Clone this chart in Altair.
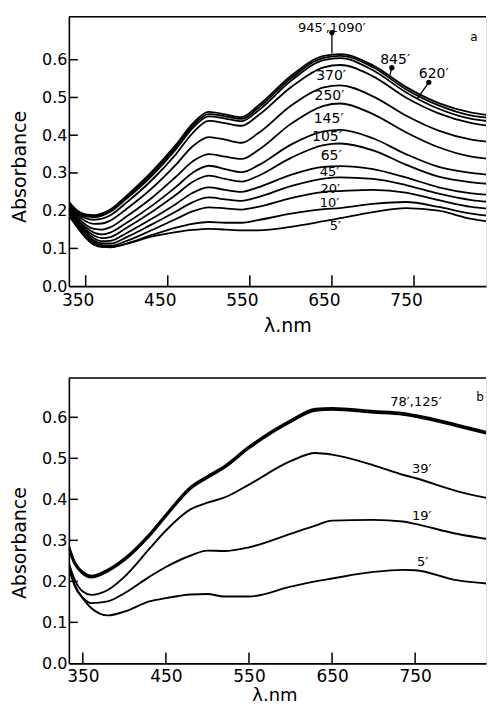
import altair as alt
import pandas as pd

FONT = "DejaVu Sans"

# ---------------- panel a ----------------
WL_A = [330, 340, 350, 360, 370, 380, 400, 430, 460, 480, 500, 520, 540, 560, 600, 640, 660, 700, 740, 780, 820, 848]
A_1090 = [0.222, 0.200, 0.190, 0.188, 0.193, 0.203, 0.240, 0.302, 0.375, 0.430, 0.462, 0.455, 0.448, 0.478, 0.557, 0.610, 0.615, 0.585, 0.528, 0.485, 0.460, 0.452]
A_845 = [0.220, 0.198, 0.188, 0.186, 0.190, 0.200, 0.236, 0.297, 0.369, 0.424, 0.456, 0.450, 0.443, 0.472, 0.551, 0.605, 0.610, 0.580, 0.522, 0.479, 0.452, 0.445]
A_620 = [0.218, 0.196, 0.185, 0.183, 0.187, 0.197, 0.232, 0.291, 0.363, 0.418, 0.450, 0.444, 0.437, 0.465, 0.544, 0.599, 0.604, 0.572, 0.514, 0.470, 0.443, 0.436]
A_370 = [0.215, 0.192, 0.180, 0.176, 0.179, 0.188, 0.222, 0.280, 0.350, 0.405, 0.438, 0.432, 0.425, 0.452, 0.527, 0.580, 0.586, 0.556, 0.500, 0.458, 0.432, 0.423]
A_250 = [0.212, 0.188, 0.172, 0.165, 0.166, 0.174, 0.205, 0.258, 0.322, 0.370, 0.395, 0.388, 0.380, 0.405, 0.478, 0.527, 0.532, 0.503, 0.452, 0.412, 0.388, 0.381]
A_145 = [0.208, 0.182, 0.163, 0.152, 0.150, 0.156, 0.185, 0.233, 0.290, 0.330, 0.350, 0.343, 0.337, 0.360, 0.430, 0.478, 0.484, 0.456, 0.408, 0.368, 0.343, 0.336]
A_105 = [0.205, 0.178, 0.156, 0.142, 0.137, 0.142, 0.168, 0.212, 0.263, 0.300, 0.319, 0.310, 0.302, 0.320, 0.375, 0.410, 0.414, 0.392, 0.350, 0.316, 0.300, 0.294]
A_65 = [0.202, 0.174, 0.150, 0.134, 0.127, 0.130, 0.155, 0.196, 0.242, 0.276, 0.293, 0.284, 0.277, 0.292, 0.340, 0.374, 0.378, 0.360, 0.322, 0.290, 0.275, 0.270]
A_45 = [0.198, 0.170, 0.145, 0.127, 0.119, 0.120, 0.141, 0.178, 0.218, 0.247, 0.262, 0.255, 0.250, 0.262, 0.295, 0.316, 0.318, 0.310, 0.288, 0.262, 0.246, 0.241]
A_30 = [0.195, 0.166, 0.140, 0.121, 0.113, 0.113, 0.130, 0.163, 0.198, 0.222, 0.235, 0.230, 0.226, 0.236, 0.265, 0.285, 0.288, 0.284, 0.268, 0.245, 0.228, 0.222]
A_20 = [0.192, 0.163, 0.136, 0.116, 0.108, 0.107, 0.120, 0.148, 0.178, 0.198, 0.209, 0.206, 0.203, 0.210, 0.233, 0.250, 0.252, 0.255, 0.248, 0.228, 0.210, 0.204]
A_10 = [0.188, 0.158, 0.130, 0.111, 0.104, 0.103, 0.113, 0.135, 0.155, 0.165, 0.170, 0.168, 0.168, 0.175, 0.192, 0.204, 0.207, 0.218, 0.223, 0.210, 0.192, 0.185]
A_5 = [0.185, 0.155, 0.128, 0.110, 0.104, 0.104, 0.112, 0.131, 0.143, 0.149, 0.152, 0.150, 0.148, 0.148, 0.157, 0.172, 0.180, 0.196, 0.207, 0.200, 0.178, 0.169]
A_NAMES = ["1090", "845", "620", "370", "250", "145", "105", "65", "45", "30", "20", "10", "5"]
A_LISTS = [A_1090, A_845, A_620, A_370, A_250, A_145, A_105, A_65, A_45, A_30, A_20, A_10, A_5]

A_LABELS = ["945′,1090′", "845′", "620′", "370′", "250′", "145′", "105′", "65′", "45′", "20′", "10′", "5′", "a"]
A_LABEL_WL = [650, 727, 774, 649, 647, 646, 644, 649, 647, 648, 647, 654, 823]
A_LABEL_V = [0.685, 0.598, 0.563, 0.556, 0.505, 0.442, 0.394, 0.344, 0.302, 0.258, 0.219, 0.159, 0.659]
A_LABEL_SIZE = [13, 14, 14, 14, 14, 14, 14, 14, 13, 13, 13, 13, 12]

# pointer lines (label -> curve)
PTR_ID = ["p1", "p1", "p2", "p2", "p3", "p3"]
PTR_WL = [650, 650, 723, 720, 768, 754]
PTR_V = [0.672, 0.617, 0.579, 0.553, 0.540, 0.497]
HEAD_WL = [650, 723, 768]
HEAD_V = [0.672, 0.579, 0.540]

# ---------------- panel b ----------------
WL_B = [333, 340, 350, 360, 380, 400, 430, 450, 480, 500, 520, 550, 600, 630, 650, 700, 735, 750, 800, 847]
B_125 = [0.285, 0.247, 0.222, 0.213, 0.228, 0.255, 0.314, 0.362, 0.430, 0.456, 0.480, 0.528, 0.592, 0.620, 0.622, 0.615, 0.610, 0.605, 0.582, 0.558]
B_78 = [0.282, 0.244, 0.219, 0.210, 0.225, 0.252, 0.311, 0.359, 0.427, 0.453, 0.477, 0.525, 0.589, 0.617, 0.619, 0.612, 0.607, 0.602, 0.579, 0.555]
B_39 = [0.245, 0.205, 0.175, 0.167, 0.179, 0.211, 0.279, 0.324, 0.376, 0.392, 0.404, 0.436, 0.493, 0.513, 0.509, 0.483, 0.460, 0.452, 0.420, 0.399]
B_19 = [0.240, 0.190, 0.160, 0.147, 0.151, 0.171, 0.211, 0.235, 0.263, 0.275, 0.274, 0.283, 0.316, 0.336, 0.348, 0.350, 0.346, 0.340, 0.316, 0.300]
B_5 = [0.232, 0.192, 0.158, 0.135, 0.117, 0.126, 0.151, 0.159, 0.168, 0.169, 0.163, 0.163, 0.187, 0.200, 0.207, 0.223, 0.228, 0.227, 0.203, 0.193]
B_NAMES = ["125", "78", "39", "19", "5"]
B_LISTS = [B_125, B_78, B_39, B_19, B_5]
B_WIDTHS = [2.6, 2.6, 1.9, 1.9, 1.9]

B_LABELS = ["78′,125′", "39′", "19′", "5′", "b"]
B_LABEL_WL = [751, 758, 758, 759, 828]
B_LABEL_V = [0.637, 0.473, 0.360, 0.247, 0.650]
B_LABEL_SIZE = [13, 13, 13, 13, 12]

X_TICKS = [350, 450, 550, 650, 750]
Y_TICKS = [0.0, 0.1, 0.2, 0.3, 0.4, 0.5, 0.6]
Y_INNER_TICKS = [0.1, 0.2, 0.3, 0.4, 0.5, 0.6]


def long_df(wls, names, lists, widths=None):
    rows = []
    for i, (n, vals) in enumerate(zip(names, lists)):
        for w, v in zip(wls, vals):
            rows.append({"wl": w, "v": v, "series": n,
                         "sw": (widths[i] if widths else 1.8)})
    return pd.DataFrame(rows)


def panel(lines_df, labels_df, xdom, ydom, W, H, label_offset, lab_pad, title_pad,
          xtitle_size, ytitle_y, xtitle_x, ptr_df=None, head_df=None):
    xs = alt.Scale(domain=xdom, nice=False, zero=False)
    ys = alt.Scale(domain=ydom, nice=False, zero=False)
    xax = alt.Axis(values=X_TICKS, format="d", ticks=False, grid=False,
                   labelPadding=lab_pad, labelFontSize=17, labelFont=FONT,
                   labelColor="black", labelOffset=label_offset,
                   labelFlush=False, labelOverlap=False,
                   domainColor="black", domainWidth=1.6,
                   title="λ.nm", titleFont=FONT, titleFontSize=xtitle_size,
                   titleFontWeight="normal", titleColor="black", titlePadding=title_pad,
                   titleX=xtitle_x)
    yax = alt.Axis(values=Y_TICKS, format=".1f", ticks=False, grid=False,
                   labelPadding=2, labelFontSize=16, labelFont=FONT,
                   labelColor="black", labelFlush=False, labelOverlap=False,
                   domainColor="black", domainWidth=1.6,
                   title="Absorbance", titleFont=FONT, titleFontSize=19,
                   titleFontWeight="normal", titleColor="black", titlePadding=12,
                   titleY=ytitle_y)
    X = alt.X("wl:Q", scale=xs, axis=xax)
    Y = alt.Y("v:Q", scale=ys, axis=yax)

    lines = alt.Chart(lines_df).mark_line(
        color="black", interpolate="monotone", clip=True
    ).encode(x=X, y=Y, detail="series:N",
             strokeWidth=alt.StrokeWidth("sw:Q", scale=None, legend=None))

    xt = alt.Chart(pd.DataFrame({"wl": X_TICKS})).mark_rule(
        color="black", strokeWidth=1.5
    ).encode(x=X, y=alt.value(H), y2=alt.value(H - 11))

    yt = alt.Chart(pd.DataFrame({"v": Y_INNER_TICKS})).mark_rule(
        color="black", strokeWidth=1.5
    ).encode(y=Y, x=alt.value(0), x2=alt.value(9))

    top = alt.Chart(pd.DataFrame({"v": [ydom[1]]})).mark_rule(
        color="black", strokeWidth=1.6
    ).encode(y=Y, x=alt.value(0), x2=alt.value(W))

    txt = alt.Chart(labels_df).mark_text(
        font=FONT, color="black", baseline="middle", align="center"
    ).encode(x=X, y=Y, text="label:N",
             size=alt.Size("fs:Q", scale=None, legend=None))

    layers = [lines, xt, yt, top, txt]
    if ptr_df is not None:
        ptr = alt.Chart(ptr_df).mark_line(color="black", strokeWidth=1.3).encode(
            x=X, y=Y, detail="id:N")
        head = alt.Chart(head_df).mark_point(
            color="black", filled=True, size=28, shape="circle", opacity=1
        ).encode(x=X, y=Y)
        layers += [ptr, head]
    return alt.layer(*layers).properties(width=W, height=H)


df_a = long_df(WL_A, A_NAMES, A_LISTS)
lab_a = pd.DataFrame({"wl": A_LABEL_WL, "v": A_LABEL_V, "label": A_LABELS, "fs": A_LABEL_SIZE})
ptr_a = pd.DataFrame({"id": PTR_ID, "wl": PTR_WL, "v": PTR_V})
head_a = pd.DataFrame({"wl": HEAD_WL, "v": HEAD_V})

df_b = long_df(WL_B, B_NAMES, B_LISTS, B_WIDTHS)
lab_b = pd.DataFrame({"wl": B_LABEL_WL, "v": B_LABEL_V, "label": B_LABELS, "fs": B_LABEL_SIZE})

W = 418
pa = panel(df_a, lab_a, [329.5, 329.5 + W / 0.8225], [0, 0.714], W, 270, -8, 6, 8,
           19, 150, 219, ptr_a, head_a)
pb = panel(df_b, lab_b, [333.2, 333.2 + W / 0.8325], [0, 0.696], W, 286, 0, 5, 2,
           18, 165, 206)

chart = alt.vconcat(pa, pb, spacing=40).properties(
    padding={"left": 2, "top": 6, "right": 0, "bottom": 0}
).configure_view(strokeWidth=0).configure(background="white")

chart.save("out.html", embed_options={"renderer": "svg", "actions": False})
